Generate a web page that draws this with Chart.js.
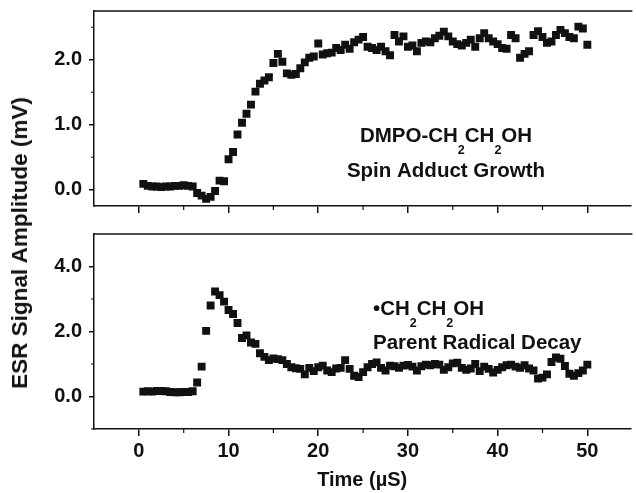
<!DOCTYPE html>
<html>
<head>
<meta charset="utf-8">
<script src="https://cdn.jsdelivr.net/npm/chart.js@4.4.1/dist/chart.umd.min.js"></script>
<style>
  html, body { margin: 0; padding: 0; background: #fff; }
  #wrap { position: relative; width: 636px; height: 493px; overflow: hidden; background: #fff; }
  canvas { position: absolute; left: 0; }
  #topChart { top: 0; }
  #botChart { top: 215px; }
  #yTitle {
    position: absolute; left: 20px; top: 243px;
    transform: translate(-50%, -50%) rotate(-90deg);
    font: bold 22.5px "Liberation Sans", Arial, sans-serif;
    white-space: nowrap; color: #111;
  }
</style>
</head>
<body>
<div id="wrap">
  <canvas id="topChart" width="636" height="215"></canvas>
  <canvas id="botChart" width="636" height="278"></canvas>
  <div id="yTitle">ESR Signal Amplitude (mV)</div>
</div>
<script>
// === DATA ===
const times = [
  0.5, 1.0, 1.5, 2.0, 2.5, 3.0, 3.5, 4.0, 4.5, 5.0,
  5.5, 6.0, 6.5, 7.0, 7.5, 8.0, 8.5, 9.0, 9.5, 10.0,
  10.5, 11.0, 11.5, 12.0, 12.5, 13.0, 13.5, 14.0, 14.5, 15.0,
  15.5, 16.0, 16.5, 17.0, 17.5, 18.0, 18.5, 19.0, 19.5, 20.0,
  20.5, 21.0, 21.5, 22.0, 22.5, 23.0, 23.5, 24.0, 24.5, 25.0,
  25.5, 26.0, 26.5, 27.0, 27.5, 28.0, 28.5, 29.0, 29.5, 30.0,
  30.5, 31.0, 31.5, 32.0, 32.5, 33.0, 33.5, 34.0, 34.5, 35.0,
  35.5, 36.0, 36.5, 37.0, 37.5, 38.0, 38.5, 39.0, 39.5, 40.0,
  40.5, 41.0, 41.5, 42.0, 42.5, 43.0, 43.5, 44.0, 44.5, 45.0,
  45.5, 46.0, 46.5, 47.0, 47.5, 48.0, 48.5, 49.0, 49.5, 50.0
];

// DMPO-CH2CH2OH spin adduct growth (mV)
const adductGrowth = [
  0.09, 0.06, 0.05, 0.05, 0.04, 0.05, 0.05, 0.06, 0.06, 0.07,
  0.06, 0.05, -0.05, -0.09, -0.14, -0.11, -0.02, 0.14, 0.13, 0.47,
  0.58, 0.85, 1.03, 1.17, 1.31, 1.51, 1.63, 1.68, 1.73, 1.95,
  2.09, 1.97, 1.79, 1.77, 1.78, 1.87, 1.96, 2.03, 2.05, 2.25,
  2.08, 2.10, 2.11, 2.18, 2.15, 2.23, 2.17, 2.27, 2.31, 2.35,
  2.20, 2.18, 2.15, 2.20, 2.13, 2.07, 2.38, 2.28, 2.36, 2.20,
  2.22, 2.13, 2.26, 2.28, 2.27, 2.33, 2.37, 2.43, 2.36, 2.28,
  2.24, 2.22, 2.26, 2.31, 2.20, 2.33, 2.41, 2.33, 2.28, 2.24,
  2.18, 2.17, 2.38, 2.33, 2.03, 2.09, 2.13, 2.38, 2.44, 2.35,
  2.26, 2.28, 2.38, 2.46, 2.41, 2.35, 2.33, 2.51, 2.48, 2.23
];

// .CH2CH2OH parent radical decay (mV)
const parentDecay = [
  0.15, 0.16, 0.15, 0.17, 0.17, 0.16, 0.14, 0.13, 0.13, 0.14,
  0.14, 0.16, 0.43, 0.92, 2.02, 2.80, 3.23, 3.12, 2.92, 2.66,
  2.54, 2.26, 1.80, 1.88, 1.66, 1.62, 1.33, 1.22, 1.12, 1.17,
  1.15, 1.12, 1.00, 0.90, 0.87, 0.85, 0.68, 0.88, 0.78, 0.90,
  0.95, 0.80, 0.75, 0.86, 0.88, 1.12, 0.85, 0.64, 0.60, 0.75,
  0.90, 1.00, 1.05, 0.88, 0.80, 0.95, 0.93, 0.88, 0.95, 0.97,
  0.92, 0.80, 0.93, 0.98, 0.96, 1.00, 0.98, 0.82, 0.90, 1.02,
  1.04, 0.88, 0.82, 0.86, 1.00, 0.78, 0.92, 0.85, 0.74, 0.82,
  0.90, 0.96, 0.98, 0.92, 0.88, 0.96, 0.86, 0.80, 0.55, 0.58,
  0.68, 1.06, 1.20, 1.16, 0.94, 0.70, 0.64, 0.72, 0.80, 0.98
];

const xTicks = [0, 10, 20, 30, 40, 50];
const xMinorTicks = [5, 15, 25, 35, 45];
const topYTicks = [0, 1, 2];
const topYMinorTicks = [0.5, 1.5, 2.5];
const botYTicks = [0, 2, 4];
const botYMinorTicks = [-1, 1, 3];

const FONT = '"Liberation Sans", Arial, sans-serif';
const INK = '#111';

function toPoints(ys) { return times.map((t, i) => ({ x: t, y: ys[i] })); }

// frame top line, minor ticks and the in-plot labels (with subscripts)
const framePlugin = {
    id: 'frame',
    afterDraw(chart, args, opts) {
        const { ctx, chartArea: a, scales } = chart;
        ctx.save();
        ctx.strokeStyle = INK;
        ctx.lineWidth = 1.5;
        ctx.beginPath(); ctx.moveTo(a.left, a.top); ctx.lineTo(a.right + 2, a.top); ctx.stroke();
        ctx.lineWidth = 1.2;
        ctx.beginPath();
        opts.xMinor.forEach(v => { const px = scales.x.getPixelForValue(v); ctx.moveTo(px, a.bottom); ctx.lineTo(px, a.bottom + 4); });
        opts.yMinor.forEach(v => { const py = scales.y.getPixelForValue(v); ctx.moveTo(a.left, py); ctx.lineTo(a.left - 3, py); });
        ctx.stroke();

        ctx.fillStyle = INK;
        ctx.textBaseline = 'alphabetic';
        const big = `bold ${opts.size}px ${FONT}`, small = `bold ${opts.subSize}px ${FONT}`;
        opts.lines.forEach(line => {
            let w = 0;
            line.parts.forEach(([t, sub]) => { ctx.font = sub ? small : big; w += ctx.measureText(t).width; });
            let x = line.align === 'center' ? line.x - w / 2 : line.x;
            line.parts.forEach(([t, sub]) => {
                ctx.font = sub ? small : big;
                ctx.fillText(t, x, line.y + (sub ? opts.subDrop : 0));
                x += ctx.measureText(t).width;
            });
        });
        ctx.restore();
    }
};

function panelOptions(cfg) {
    return {
        responsive: false, animation: false,
        layout: { padding: { top: cfg.padTop, right: 1, left: 0, bottom: 0 } },
        plugins: {
            legend: { display: false }, tooltip: { enabled: false },
            frame: { xMinor: xMinorTicks, yMinor: cfg.yMinor, lines: cfg.lines, size: 20.5, subSize: 12.5, subDrop: 12 }
        },
        scales: {
            x: {
                type: 'linear', min: -5, max: 54.8,
                afterBuildTicks: s => { s.ticks = xTicks.map(v => ({ value: v })); },
                afterFit: s => { s.height = cfg.xAxisH; s.paddingLeft = 0; s.paddingRight = 0; },
                grid: { drawOnChartArea: false, drawTicks: true, tickLength: 7, color: INK, lineWidth: 1.5 },
                border: { display: true, color: INK, width: 1.5 },
                ticks: { color: INK, padding: 3, maxRotation: 0, font: { family: FONT, size: 20, weight: 'bold' },
                         callback: v => cfg.showX ? String(v) : '' },
                title: { display: cfg.showX, text: 'Time (\u00b5S)', color: INK, padding: 1,
                         font: { family: FONT, size: 20, weight: 'bold' } }
            },
            y: {
                min: cfg.yMin, max: cfg.yMax,
                afterBuildTicks: s => { s.ticks = cfg.yTicks.map(v => ({ value: v })); },
                afterFit: s => { s.width = 94; s.paddingTop = 0; s.paddingBottom = 0; },
                grid: { drawOnChartArea: false, drawTicks: true, tickLength: 5, color: INK, lineWidth: 1.5 },
                border: { display: true, color: INK, width: 1.5 },
                ticks: { color: INK, padding: 7, font: { family: FONT, size: 20, weight: 'bold' }, callback: v => v.toFixed(1) }
            }
        }
    };
}

function dataset(values) {
    return { data: toPoints(values), pointStyle: 'rect', pointRadius: 5.6, backgroundColor: INK, borderWidth: 0 };
}

new Chart(document.getElementById('topChart'), {
    type: 'scatter',
    data: { datasets: [dataset(adductGrowth)] },
    options: panelOptions({
        padTop: 11, xAxisH: 9, showX: false,
        yMin: -0.25, yMax: 2.75, yTicks: topYTicks, yMinor: topYMinorTicks,
        lines: [
            { x: 446, y: 142, align: 'center', parts: [['DMPO-CH'], ['2', true], ['CH'], ['2', true], ['OH']] },
            { x: 446, y: 177, align: 'center', parts: [['Spin Adduct Growth']] }
        ]
    }),
    plugins: [framePlugin]
});

new Chart(document.getElementById('botChart'), {
    type: 'scatter',
    data: { datasets: [dataset(parentDecay)] },
    options: panelOptions({
        padTop: 19, xAxisH: 64, showX: true,
        yMin: -1, yMax: 5, yTicks: botYTicks, yMinor: botYMinorTicks,
        lines: [
            { x: 373, y: 100, align: 'left', parts: [['\u2022CH'], ['2', true], ['CH'], ['2', true], ['OH']] },
            { x: 373, y: 134, align: 'left', parts: [['Parent Radical Decay']] }
        ]
    }),
    plugins: [framePlugin]
});
</script>
</body>
</html>
